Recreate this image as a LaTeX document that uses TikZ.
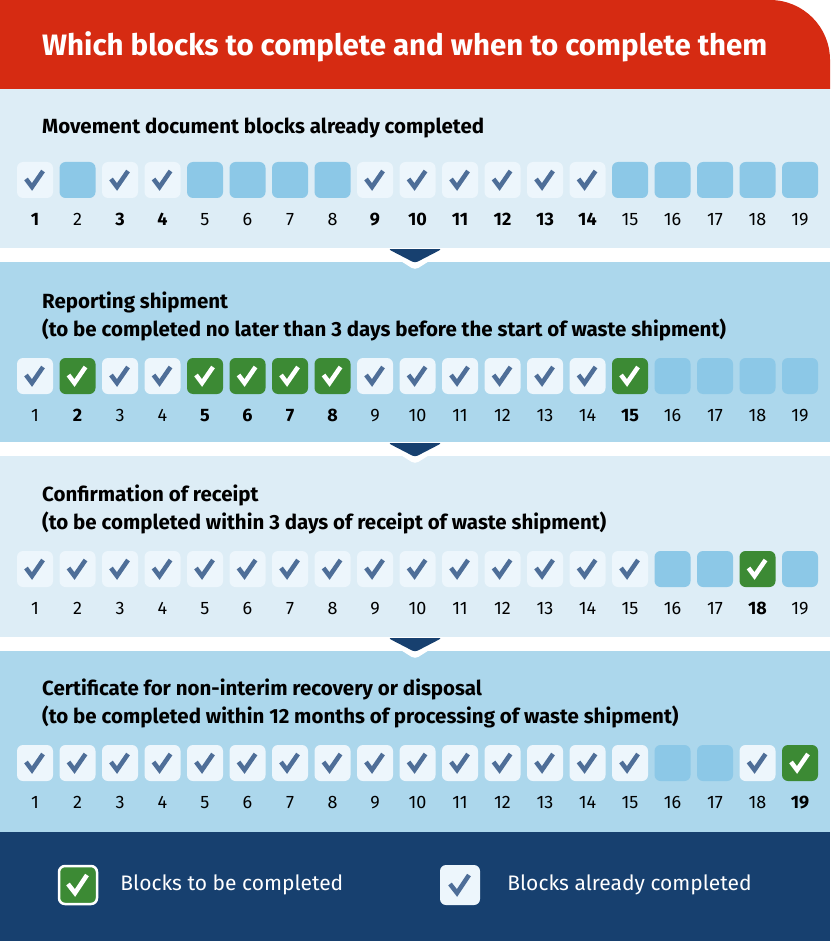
\documentclass[tikz,border=0pt]{standalone}
\usepackage{fontspec}
\setmainfont{Fira Sans}
\usetikzlibrary{positioning}
\definecolor{hdr_red}{HTML}{D62B12}
\definecolor{pan_light}{HTML}{DDEDF6}
\definecolor{pan_mid}{HTML}{ACD7EC}
\definecolor{blk_empty}{HTML}{8CC8E7}
\definecolor{blk_done}{HTML}{EDF6FC}
\definecolor{chk_blue}{HTML}{4E6E98}
\definecolor{blk_green}{HTML}{3C8A34}
\definecolor{navy}{HTML}{17406F}
\begin{document}
\begin{tikzpicture}[x=1pt,y=-1pt,node distance=4pt]
\tikzstyle{blk}=[rectangle,rounded corners=6pt,minimum size=36pt,inner sep=0pt]
\tikzstyle{blke}=[blk,fill=blk_empty]
\tikzstyle{blkd}=[blk,fill=blk_done]
\tikzstyle{blkn}=[blk,fill=blk_green]
\tikzstyle{num}=[inner sep=0pt,font=\fontsize{18}{20}\selectfont,text=black]
\tikzstyle{num1d}=[num,font=\fontsize{18}{20}\selectfont\bfseries]
\tikzstyle{num1e}=[num]
\tikzstyle{numxd}=[num]
\tikzstyle{numxe}=[num]
\tikzstyle{numxn}=[num,font=\fontsize{18}{20}\selectfont\bfseries]
\tikzstyle{chk}=[line width=4.5pt,line join=miter,line cap=butt]
\tikzstyle{head}=[anchor=west,inner sep=0pt,align=left,font=\fontsize{20.5}{28}\selectfont\bfseries]
\tikzstyle{legend}=[anchor=west,inner sep=0pt,text=white,font=\fontsize{21}{24}\selectfont]

\useasboundingbox (0,0) rectangle (830,941);

% panels
\fill[pan_light] (0,89) rectangle (830,248);
\fill[pan_mid] (0,262) rectangle (830,442);
\fill[pan_light] (0,456) rectangle (830,637);
\fill[pan_mid] (0,651) rectangle (830,832);
\fill[navy] (0,832) rectangle (830,941);
\fill[hdr_red] (0,89) -- (0,0) -- (770,0) arc[start angle=-90,end angle=0,radius=60] -- (830,89) -- cycle;
\node[anchor=west,inner sep=0pt,text=white,font=\fontsize{29.5}{32}\selectfont\bfseries] (title) at (42,47) {Which blocks to complete and when to complete them};

% separators
\foreach \y in {248,442,637} {
  \fill[white,rounded corners=4pt] (380,\y) -- (450,\y) -- (415,\y+22) -- cycle;
  \fill[navy,rounded corners=3pt] (388,\y+1) -- (442,\y+1) -- (415,\y+15) -- cycle;
}

% headings
\node[head] (h1) at (42,128) {Movement document blocks already completed};
\node[head] (h2) at (42,316) {Reporting shipment\\(to be completed no later than 3 days before the start of waste shipment)};
\node[head] (h3) at (42,509) {Confirmation of receipt\\(to be completed within 3 days of receipt of waste shipment)};
\node[head] (h4) at (42,703) {Certificate for non-interim recovery or disposal\\(to be completed within 12 months of processing of waste shipment)};

% block rows
\foreach \r/\y/\f/\row in {
  1/180/1/{d,e,d,d,e,e,e,e,d,d,d,d,d,d,e,e,e,e,e},
  2/376/x/{d,n,d,d,n,n,n,n,d,d,d,d,d,d,n,e,e,e,e},
  3/569/x/{d,d,d,d,d,d,d,d,d,d,d,d,d,d,d,e,e,n,e},
  4/763/x/{d,d,d,d,d,d,d,d,d,d,d,d,d,d,d,e,e,d,n}} {
  \foreach \s [count=\i] in \row {
    \node[blk\s] (b\r_\i) at ({35+42.5*(\i-1)},\y) {};
    \node[num\f\s,below=15pt of b\r_\i] (n\r_\i) {\i};
    \if\s d
      \draw[chk,chk_blue] ([shift={(-9,-1)}]b\r_\i.center) -- ++(6,8) -- ++(11,-16);
    \fi
    \if\s n
      \draw[chk,white] ([shift={(-9,-1)}]b\r_\i.center) -- ++(6,8) -- ++(11,-16);
    \fi
  }
}

% legend
\node[blk,fill=blk_green,draw=white,line width=2.5pt,minimum size=38pt] (leg_new) at (78,885) {};
\draw[chk,white] ([shift={(-10,-1)}]leg_new.center) -- ++(7,9) -- ++(12,-18);
\node[legend,right=22pt of leg_new] (leg_new_txt) {Blocks to be completed};
\node[blk,fill=blk_done,minimum size=40pt] (leg_done) at (460,885) {};
\draw[chk,chk_blue] ([shift={(-10,-1)}]leg_done.center) -- ++(7,9) -- ++(12,-18);
\node[legend,right=27pt of leg_done] (leg_done_txt) {Blocks already completed};
\end{tikzpicture}
\end{document}
